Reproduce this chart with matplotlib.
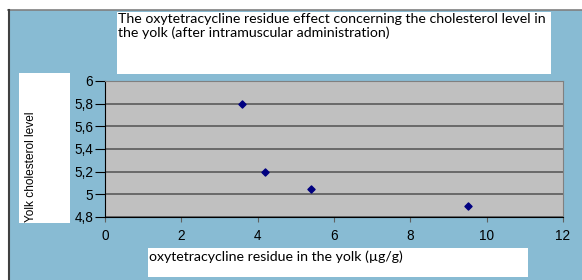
import matplotlib.pyplot as plt
from matplotlib.patches import Rectangle
from matplotlib.ticker import FuncFormatter

# residue (ug/g) vs yolk cholesterol
residue = [3.6, 4.2, 5.4, 9.5]
cholesterol = [5.8, 5.2, 5.05, 4.9]
xticks = [0, 2, 4, 6, 8, 10, 12]
yticks = [4.8, 5.0, 5.2, 5.4, 5.6, 5.8, 6.0]

title = "The oxytetracycline residue effect concerning the cholesterol level in\nthe yolk (after intramuscular administration)"
xlabel = "oxytetracycline residue in the yolk (\u00b5g/g)"
ylabel = "Yolk cholesterol level"

W, H = 582, 280
fig = plt.figure(figsize=(W / 100, H / 100), dpi=100)
fig.patch.set_facecolor('white')

def box(x0, y0, x1, y1, **kw):
    # pixel coords, y from top
    r = Rectangle((x0 / W, 1 - y1 / H), (x1 - x0) / W, (y1 - y0) / H,
                  transform=fig.transFigure, zorder=-2, **kw)
    fig.patches.append(r)

# blue chart area with border
box(8, 10, 582, 281, facecolor='#88bbd3', edgecolor='none')
fig.add_artist(plt.Line2D([8 / W, 1], [1 - 10 / H, 1 - 10 / H], transform=fig.transFigure,
                          color='#808080', lw=1.2, zorder=-1))
fig.add_artist(plt.Line2D([8.5 / W, 8.5 / W], [0, 1 - 10 / H], transform=fig.transFigure,
                          color='#404040', lw=1.5, zorder=-1))

# white text boxes
box(117, 12, 551, 74, facecolor='white', edgecolor='none')
box(19, 73, 70, 223, facecolor='white', edgecolor='none')
box(148, 248, 528, 277, facecolor='white', edgecolor='none')

fig.text(118 / W, 1 - 13 / H, title, ha='left', va='top', fontsize=10.2,
         family='Lato', linespacing=1.1)
fig.text(149 / W, 1 - 257 / H, xlabel, ha='left', va='center', fontsize=10.2, family='Lato')
fig.text(31 / W, 1 - 222 / H, ylabel, ha='center', va='bottom', rotation=90,
         fontsize=8.6, family='Liberation Sans')

ax = fig.add_axes([105 / W, 1 - 217 / H, (563 - 105) / W, (217 - 81) / H])
ax.set_facecolor('#c0c0c0')
ax.scatter(residue, cholesterol, marker='D', s=13, color='#000080', zorder=3)

ax.set_xlim(0, 12)
ax.set_ylim(4.8, 6.0)
ax.set_xticks(xticks)
ax.set_yticks(yticks)
ax.yaxis.set_major_formatter(FuncFormatter(lambda v, p: ('%g' % round(v, 1)).replace('.', ',')))
ax.grid(axis='y', color='#5a5a5a', lw=1.2)
ax.set_axisbelow(True)
for s in ['top', 'right']:
    ax.spines[s].set_color('#808080')
for s in ['left', 'bottom']:
    ax.spines[s].set_color('black')
ax.tick_params(direction='out', width=0.8, labelsize=9.8)
ax.tick_params(axis='y', length=7, pad=1.5)
ax.tick_params(axis='x', length=3.5, pad=5, color='#606060')
for lab in ax.get_xticklabels() + ax.get_yticklabels():
    lab.set_family('Liberation Sans')

fig.savefig('out.png', dpi=100)
